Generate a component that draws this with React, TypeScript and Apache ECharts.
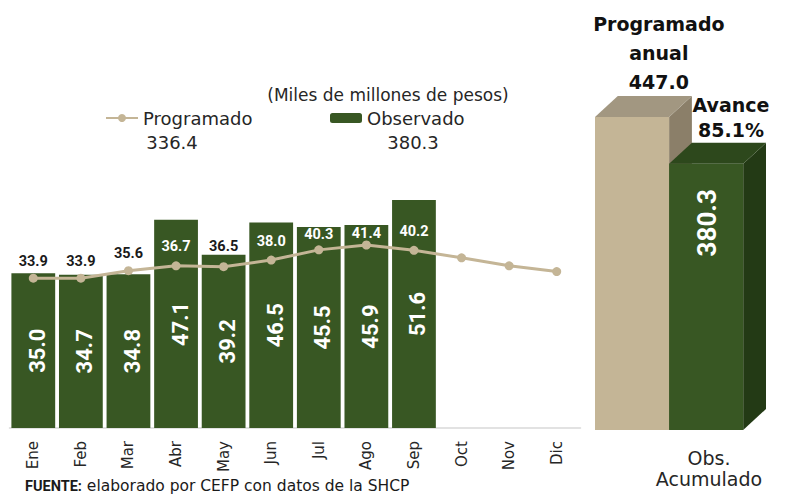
import React, { useEffect, useRef } from "react";
import * as echarts from "echarts";

// ---- data ----
const MONTHS = ["Ene", "Feb", "Mar", "Abr", "May", "Jun", "Jul", "Ago", "Sep", "Oct", "Nov", "Dic"];
const PROGRAMADO = [33.9, 33.9, 35.6, 36.7, 36.5, 38.0, 40.3, 41.4, 40.2, 38.5, 36.7, 35.4];
const OBSERVADO = [35.0, 34.7, 34.8, 47.1, 39.2, 46.5, 45.5, 45.9, 51.6];
const PROG_ACUM = 336.4;
const OBS_ACUM = 380.3;
const PROG_ANUAL = 447.0;
const ACUM_CATEGORY = ["Obs.\nAcumulado"];

const TITLE = "(Miles de millones de pesos)";
const FOOTER_BOLD = "FUENTE:";
const FOOTER_TEXT = " elaborado por CEFP con datos de la SHCP";

// ---- styles ----
const GREEN = "#385723";
const GREEN_TOP = "#2d481c";
const GREEN_SIDE = "#233a15";
const BEIGE = "#c4b596";
const BEIGE_TOP = "#a29781";
const BEIGE_SIDE = "#8b7f69";
const TXT = "#262626";
const FONT = '"DejaVu Sans", sans-serif';

const W = 796;
const H = 495;
const G1 = { left: 9.5, right: 215.5, top: 162.8, bottom: 67 };
const Y1_MAX = 60;

export default function App() {
  const ref = useRef<HTMLDivElement>(null);

  useEffect(() => {
    if (!ref.current) return;
    const chart = echarts.init(ref.current, undefined, { renderer: "svg", width: W, height: H });

    const pxPerUnit = (H - G1.top - G1.bottom) / Y1_MAX;

    const lineData = PROGRAMADO.map((v, i) => {
      const o = OBSERVADO[i];
      if (o === undefined) return { value: v, label: { show: false } };
      const gapPx = (o - v) * pxPerUnit;
      const white = gapPx >= 18;
      let off = 17;
      if (white) off = Math.min(19, gapPx - 8);
      else if (gapPx > 0) off = Math.max(17, gapPx + 8);
      return {
        value: v,
        label: { show: true, color: white ? "#ffffff" : "#1a1a1a", offset: [0, -off] },
      };
    });

    const pct = ((OBS_ACUM / PROG_ANUAL) * 100).toFixed(1);

    const option: any = {
      animation: false,
      backgroundColor: "#ffffff",
      grid: [
        { ...G1, outerBoundsMode: "none", containLabel: false },
        { left: 595, width: 228, top: 80, bottom: 65, outerBoundsMode: "none", containLabel: false },
      ],
      legend: [
        {
          data: ["Programado"],
          left: 105,
          top: 109,
          padding: 0,
          itemWidth: 32,
          itemHeight: 10,
          textStyle: { fontSize: 18, fontFamily: FONT, color: TXT },
        },
        {
          data: ["Observado"],
          left: 330,
          top: 109,
          padding: 0,
          itemWidth: 32,
          itemHeight: 10,
          textStyle: { fontSize: 18, fontFamily: FONT, color: TXT },
        },
      ],
      xAxis: [
        {
          type: "category",
          gridIndex: 0,
          data: MONTHS,
          axisLine: { show: true, lineStyle: { color: "#d9d9d9", width: 1.5 } },
          axisTick: { show: false },
          axisLabel: { rotate: 90, margin: 13, fontSize: 15, fontFamily: FONT, color: TXT, interval: 0 },
        },
        {
          type: "category",
          gridIndex: 1,
          data: ACUM_CATEGORY,
          axisLine: { show: false },
          axisTick: { show: false },
          axisLabel: {
            margin: 17,
            formatter: (v: string) =>
              v
                .split("\n")
                .map((s) => "{a|" + s + "}")
                .join("\n"),
            rich: {
              a: { fontSize: 19, lineHeight: 21, fontFamily: FONT, color: TXT },
            },
          },
        },
      ],
      yAxis: [
        { type: "value", gridIndex: 0, min: 0, max: Y1_MAX, show: false },
        { type: "value", gridIndex: 1, min: 0, max: 500, show: false },
      ],
      series: [
        {
          name: "Observado",
          type: "bar",
          xAxisIndex: 0,
          yAxisIndex: 0,
          data: OBSERVADO,
          barCategoryGap: "8%",
          itemStyle: { color: GREEN },
          label: {
            show: true,
            position: "inside",
            rotate: 90,
            offset: [0, 4],
            color: "#ffffff",
            fontFamily: "Roboto",
            fontWeight: "bold",
            fontSize: 22,
            formatter: (p: any) => Number(p.value).toFixed(1),
          },
          z: 2,
        },
        {
          name: "Programado",
          type: "line",
          xAxisIndex: 0,
          yAxisIndex: 0,
          data: lineData,
          symbol: "circle",
          symbolSize: 9,
          lineStyle: { color: BEIGE, width: 3 },
          itemStyle: { color: BEIGE },
          label: {
            show: true,
            position: "inside",
            fontFamily: "Roboto",
            fontWeight: "bold",
            fontSize: 14.5,
            lineHeight: 15,
            formatter: (p: any) => Number(p.value).toFixed(1),
          },
          z: 3,
        },
        {
          name: "Acumulado",
          type: "custom",
          xAxisIndex: 1,
          yAxisIndex: 1,
          data: [
            [0, PROG_ANUAL, 0],
            [0, OBS_ACUM, 1],
          ],
          renderItem: (params: any, api: any) => {
            const val = api.value(1);
            const slot = api.value(2);
            const base = api.coord([0, 0]);
            const top = api.coord([0, val]);
            const band = api.size([1, 0])[0];
            const w = band * 0.325;
            const dx = band * 0.1;
            const dy = 21;
            const x0 = base[0] - band / 2 + slot * w;
            const x1 = x0 + w;
            const yT = top[1];
            const yB = base[1];
            const front = slot === 0 ? BEIGE : GREEN;
            const topC = slot === 0 ? BEIGE_TOP : GREEN_TOP;
            const sideC = slot === 0 ? BEIGE_SIDE : GREEN_SIDE;
            const children: any[] = [
              {
                type: "polygon",
                shape: { points: [[x1, yT], [x1 + dx, yT - dy], [x1 + dx, yB - dy], [x1, yB]] },
                style: { fill: sideC },
              },
              { type: "rect", shape: { x: x0, y: yT, width: w, height: yB - yT }, style: { fill: front } },
              {
                type: "polygon",
                shape: { points: [[x0, yT], [x1, yT], [x1 + dx, yT - dy], [x0 + dx, yT - dy]] },
                style: { fill: topC },
              },
            ];
            const cx = (x0 + x1) / 2;
            if (slot === 0) {
              children.push({
                type: "text",
                x: cx + dx + 4,
                y: yT - dy,
                style: {
                  text: "Programado\nanual\n" + PROG_ANUAL.toFixed(1),
                  fill: "#111111",
                  fontFamily: FONT,
                  fontWeight: "bold",
                  fontSize: 19,
                  lineHeight: 29,
                  align: "center",
                  verticalAlign: "bottom",
                },
              });
            } else {
              children.push({
                type: "text",
                x: cx + dx + 2,
                y: yT - dy,
                style: {
                  text: "Avance\n" + pct + "%",
                  fill: "#111111",
                  fontFamily: FONT,
                  fontWeight: "bold",
                  fontSize: 19,
                  lineHeight: 25,
                  align: "center",
                  verticalAlign: "bottom",
                },
              });
              children.push({
                type: "text",
                x: cx + 1,
                y: yT + 59,
                rotation: Math.PI / 2,
                style: {
                  text: val.toFixed(1),
                  fill: "#ffffff",
                  fontFamily: "Roboto",
                  fontWeight: "bold",
                  fontSize: 26,
                  align: "center",
                  verticalAlign: "middle",
                },
              });
            }
            return { type: "group", children };
          },
          z: 2,
        },
      ],
      graphic: [
        {
          type: "text",
          x: 388,
          y: 95,
          style: {
            text: TITLE,
            fill: TXT,
            fontFamily: FONT,
            fontSize: 17,
            align: "center",
            verticalAlign: "middle",
          },
        },
        {
          type: "text",
          x: 172,
          y: 142,
          style: {
            text: PROG_ACUM.toFixed(1),
            fill: TXT,
            fontFamily: FONT,
            fontSize: 18,
            align: "center",
            verticalAlign: "middle",
          },
        },
        {
          type: "text",
          x: 413,
          y: 142,
          style: {
            text: OBS_ACUM.toFixed(1),
            fill: TXT,
            fontFamily: FONT,
            fontSize: 18,
            align: "center",
            verticalAlign: "middle",
          },
        },
        {
          type: "text",
          x: 25,
          y: 486,
          style: {
            text: "{b|" + FOOTER_BOLD + "}" + FOOTER_TEXT,
            fill: "#1a1a1a",
            fontFamily: FONT,
            fontSize: 15.5,
            lineHeight: 16,
            align: "left",
            verticalAlign: "middle",
            rich: {
              b: { fontFamily: "Roboto", fontWeight: "bold", fontSize: 14.5, lineHeight: 16, fill: "#1a1a1a" },
            },
          },
        },
      ],
    };

    chart.setOption(option);
    return () => chart.dispose();
  }, []);

  return (
    <div
      ref={ref}
      style={{ position: "fixed", left: 0, top: 0, width: W, height: H, background: "#ffffff" }}
    />
  );
}
